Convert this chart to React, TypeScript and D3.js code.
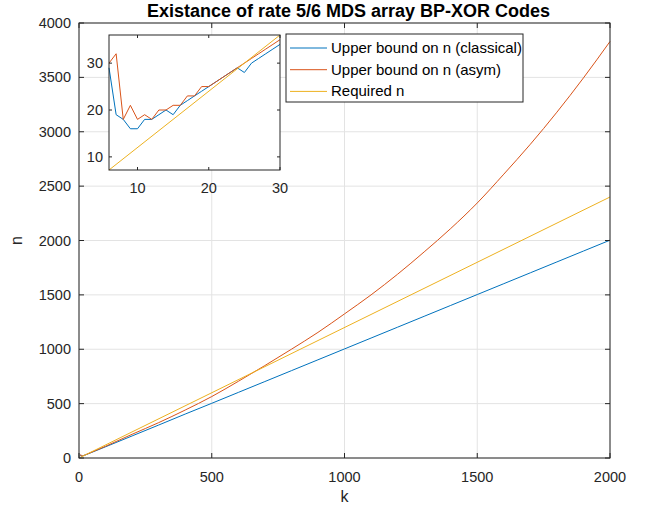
import React, { useEffect } from 'react';
import * as d3 from 'd3';

// inset region: k = 6..30
const insetK = [6, 7, 8, 9, 10, 11, 12, 13, 14, 15, 16, 17, 18, 19, 20, 21, 22, 23, 24, 25, 26, 27, 28, 29, 30];
const insetClassical = [29, 19, 18, 16, 16, 18, 18, 19, 20, 19, 21, 22, 23, 24, 25, 26, 27, 28, 29, 28, 30, 31, 32, 33, 34];
const insetAsym = [30, 32, 18, 21, 18, 19, 18, 20, 20, 21, 21, 23, 23, 25, 25, 26, 27, 28, 29, 30, 31, 32, 33, 34, 35];

// rest of the range
const mainK = [100, 200, 300, 400, 500, 600, 700, 800, 900, 1000, 1100, 1200, 1300, 1400, 1500, 1600, 1700, 1800, 1900, 2000];
const mainClassical = [103, 203, 303, 404, 503, 603, 703, 803, 903, 1003, 1103, 1203, 1303, 1403, 1503, 1603, 1703, 1803, 1903, 2003];
const mainAsym = [108, 218, 325, 441, 565, 705, 850, 1000, 1155, 1325, 1500, 1690, 1895, 2110, 2345, 2610, 2885, 3180, 3495, 3830];

const requiredK = [6, 30, 2000];
const requiredN = [7.2, 36, 2400];

const xTicks = [0, 500, 1000, 1500, 2000];
const yTicks = [0, 500, 1000, 1500, 2000, 2500, 3000, 3500, 4000];
const insetXTicks = [10, 20, 30];
const insetYTicks = [10, 20, 30];

const seriesNames = ['Upper bound on n (classical)', 'Upper bound on n (asym)', 'Required n'];
const colors = ['#0072BD', '#D95319', '#EDB120'];

const FONT = '"Liberation Sans", Arial, Helvetica, sans-serif';
const AX = '#262626';

type Pt = [number, number];

export default function App() {
  useEffect(() => {
    document.body.style.margin = '0';
  }, []);

  const x = d3.scaleLinear().domain([0, 2000]).range([79, 610]);
  const y = d3.scaleLinear().domain([0, 4000]).range([458, 23]);
  const ix = d3.scaleLinear().domain([6, 30]).range([109, 280]);
  const iy = d3.scaleLinear().domain([7.2, 36]).range([170, 35]);

  const classical: Pt[] = [...insetK.map((k, i) => [k, insetClassical[i]] as Pt), ...mainK.map((k, i) => [k, mainClassical[i]] as Pt)];
  // asym curve is smooth past the inset range, so only the tail uses a curve
  const asymHead: Pt[] = insetK.map((k, i) => [k, insetAsym[i]] as Pt);
  const asymTail: Pt[] = [[30, 35], ...mainK.map((k, i) => [k, mainAsym[i]] as Pt)];
  const required: Pt[] = requiredK.map((k, i) => [k, requiredN[i]] as Pt);

  const mainLine = d3.line<Pt>().x(d => x(d[0])).y(d => y(d[1]));
  const mainCurve = d3.line<Pt>().x(d => x(d[0])).y(d => y(d[1])).curve(d3.curveMonotoneX);
  const insetLine = d3.line<Pt>().x(d => ix(d[0])).y(d => iy(d[1]));

  const insetC: Pt[] = insetK.map((k, i) => [k, insetClassical[i]]);
  const insetA: Pt[] = insetK.map((k, i) => [k, insetAsym[i]]);
  const insetR: Pt[] = required.slice(0, 2);

  const [x0, x1] = x.range();
  const [y0, y1] = y.range();
  const [ix0, ix1] = ix.range();
  const [iy0, iy1] = iy.range();
  const tl = 5;

  return (
    <svg width={652} height={510} style={{ display: 'block', background: '#fff' }} fontFamily={FONT}>
      {/* grid */}
      {xTicks.map(t => (
        <line key={'gx' + t} x1={x(t)} x2={x(t)} y1={y0} y2={y1} stroke="#e3e3e3" strokeWidth={1} />
      ))}
      {yTicks.map(t => (
        <line key={'gy' + t} x1={x0} x2={x1} y1={y(t)} y2={y(t)} stroke="#e3e3e3" strokeWidth={1} />
      ))}

      {/* main lines */}
      <path d={mainLine(classical) || ''} fill="none" stroke={colors[0]} strokeWidth={1} />
      <path d={mainLine(asymHead) || ''} fill="none" stroke={colors[1]} strokeWidth={1} />
      <path d={mainCurve(asymTail) || ''} fill="none" stroke={colors[1]} strokeWidth={1} />
      <path d={mainLine(required) || ''} fill="none" stroke={colors[2]} strokeWidth={1} />

      {/* main box and ticks */}
      <rect x={x0} y={y1} width={x1 - x0} height={y0 - y1} fill="none" stroke={AX} strokeWidth={1} />
      {xTicks.map(t => (
        <g key={'tx' + t}>
          <line x1={x(t)} x2={x(t)} y1={y0} y2={y0 - tl} stroke={AX} />
          <line x1={x(t)} x2={x(t)} y1={y1} y2={y1 + tl} stroke={AX} />
          <text x={x(t)} y={y0 + 24} textAnchor="middle" fontSize={14.5} fill={AX}>{t}</text>
        </g>
      ))}
      {yTicks.map(t => (
        <g key={'ty' + t}>
          <line x1={x0} x2={x0 + tl} y1={y(t)} y2={y(t)} stroke={AX} />
          <line x1={x1} x2={x1 - tl} y1={y(t)} y2={y(t)} stroke={AX} />
          <text x={x0 - 8} y={y(t) + 5} textAnchor="end" fontSize={14.5} fill={AX}>{t}</text>
        </g>
      ))}
      <text x={(x0 + x1) / 2} y={502} textAnchor="middle" fontSize={16} fill={AX}>k</text>
      <text transform={`translate(22,${(y0 + y1) / 2}) rotate(-90)`} textAnchor="middle" fontSize={16} fill={AX}>n</text>
      <text x={(x0 + x1) / 2 + 4} y={17} textAnchor="middle" fontSize={18} fontWeight="bold" fill="#000">
        Existance of rate 5/6 MDS array BP-XOR Codes
      </text>

      {/* inset */}
      <rect x={ix0} y={iy1} width={ix1 - ix0} height={iy0 - iy1} fill="#fff" />
      <path d={insetLine(insetC) || ''} fill="none" stroke={colors[0]} strokeWidth={1} />
      <path d={insetLine(insetA) || ''} fill="none" stroke={colors[1]} strokeWidth={1} />
      <path d={insetLine(insetR) || ''} fill="none" stroke={colors[2]} strokeWidth={1} />
      <rect x={ix0} y={iy1} width={ix1 - ix0} height={iy0 - iy1} fill="none" stroke={AX} strokeWidth={1} />
      {insetXTicks.map(t => (
        <g key={'itx' + t}>
          <line x1={ix(t)} x2={ix(t)} y1={iy0} y2={iy0 - 3} stroke={AX} />
          <line x1={ix(t)} x2={ix(t)} y1={iy1} y2={iy1 + 3} stroke={AX} />
          <text x={ix(t)} y={iy0 + 23} textAnchor="middle" fontSize={14.5} fill={AX}>{t}</text>
        </g>
      ))}
      {insetYTicks.map(t => (
        <g key={'ity' + t}>
          <line x1={ix0} x2={ix0 + 3} y1={iy(t)} y2={iy(t)} stroke={AX} />
          <line x1={ix1} x2={ix1 - 3} y1={iy(t)} y2={iy(t)} stroke={AX} />
          <text x={ix0 - 6} y={iy(t) + 5} textAnchor="end" fontSize={14.5} fill={AX}>{t}</text>
        </g>
      ))}

      {/* legend */}
      <rect x={286} y={34} width={237} height={68} fill="#fff" stroke={AX} strokeWidth={1} />
      {seriesNames.map((name, i) => (
        <g key={name}>
          <line x1={290} x2={327} y1={48 + i * 21.7} y2={48 + i * 21.7} stroke={colors[i]} strokeWidth={1} />
          <text x={331} y={48 + i * 21.7 + 5} fontSize={15} fill="#000">{name}</text>
        </g>
      ))}
    </svg>
  );
}
